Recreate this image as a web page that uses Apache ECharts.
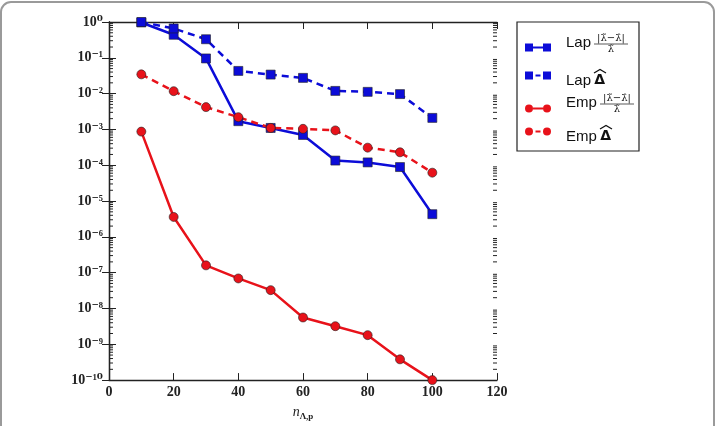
<!DOCTYPE html>
<html>
<head>
<meta charset="utf-8">
<script src="https://cdn.jsdelivr.net/npm/echarts@6/dist/echarts.min.js"></script>
<style>
  html, body { margin: 0; padding: 0; background: #fff; }
  #chart { width: 716px; height: 426px; }
</style>
</head>
<body>
<div id="chart"></div>
<script>
// 数据
const nValues = [10, 20, 30, 40, 50, 60, 70, 80, 90, 100];
const lapRel = [0.97, 0.44, 0.096, 1.7e-3, 1.1e-3, 7.0e-4, 1.35e-4, 1.2e-4, 8.9e-5, 4.3e-6];
const lapDelta = [1.0, 0.66, 0.33, 0.043, 0.034, 0.0275, 0.0119, 0.0112, 0.0097, 2.1e-3];
const empRel = [8.7e-4, 3.6e-6, 1.6e-7, 6.9e-8, 3.25e-8, 5.6e-9, 3.2e-9, 1.8e-9, 3.8e-10, 1.0e-10];
const empDelta = [0.0345, 0.0117, 4.2e-3, 2.2e-3, 1.1e-3, 1.04e-3, 9.4e-4, 3.1e-4, 2.3e-4, 6.2e-5];
const seriesNames = ['Lap |λ̃−λ̂|/λ̃', 'Lap Δ̂', 'Emp |λ̃−λ̂|/λ̃', 'Emp Δ̂'];
const legendPrefixes = ['Lap', 'Lap', 'Emp', 'Emp'];
const legendSuffixes = ['', 'Δ', '', 'Δ'];
const fracNumerator = '|λ̃−λ̂|';
const fracDenominator = 'λ̃';
const minorMultipliers = [2, 3, 4, 5, 6, 7, 8, 9];

const BLUE = '#0c0cd8';
const RED = '#e8121a';
const SERIF = '"Liberation Serif", "DejaVu Serif", serif';
const MATH = '"DejaVu Serif", serif';
const SANS = '"Liberation Sans", Arial, sans-serif';

const supDigits = { '0': '⁰', '1': '¹', '2': '²', '3': '³', '4': '⁴', '5': '⁵', '6': '⁶', '7': '⁷', '8': '⁸', '9': '⁹', '-': '⁻' };
const toSup = s => String(s).split('').map(c => supDigits[c] || c).join('');

const pair = arr => nValues.map((n, i) => [n, arr[i]]);

const chart = echarts.init(document.getElementById('chart'), null, { renderer: 'canvas' });

// 图例图标：两端标记 + 中间线段
const ICON_SQ_SOLID = 'path://M0,0h8v8h-8z M8,3h10v2h-10z M18,0h8v8h-8z';
const ICON_SQ_DASH = 'path://M0,0h8v8h-8z M10.5,3h5v2h-5z M18,0h8v8h-8z';
const ICON_CI_SOLID = 'path://M0,4a4,4 0 1,0 8,0a4,4 0 1,0 -8,0z M8,3h10v2h-10z M18,4a4,4 0 1,0 8,0a4,4 0 1,0 -8,0z';
const ICON_CI_DASH = 'path://M0,4a4,4 0 1,0 8,0a4,4 0 1,0 -8,0z M10.5,3h5v2h-5z M18,4a4,4 0 1,0 8,0a4,4 0 1,0 -8,0z';
const legendIcons = [ICON_SQ_SOLID, ICON_SQ_DASH, ICON_CI_SOLID, ICON_CI_DASH];
const legendRowY = [49, 77, 110, 133];
// 文字相对图标的竖直偏移（负值向上）
const legendTextShift = [-5, 5, -6, 5];

const legends = seriesNames.map((name, i) => {
  const sh = legendTextShift[i];
  const pad = sh < 0 ? [0, 0, -2 * sh, 10] : [2 * sh, 0, 0, 10];
  const padD = sh < 0 ? [0, 0, -2 * sh, 0] : [2 * sh, 0, 0, 0];
  const boxH = 18 + Math.abs(2 * sh);
  return {
    data: [name],
    left: 525,
    top: legendRowY[i] - boxH / 2,
    itemWidth: 26,
    itemHeight: 8,
    itemGap: 0,
    icon: legendIcons[i],
    selectedMode: false,
    padding: 0,
    itemStyle: { borderWidth: 0 },
    formatter: () => legendSuffixes[i]
      ? '{t|' + legendPrefixes[i] + '} {d|' + legendSuffixes[i] + '}'
      : '{t|' + legendPrefixes[i] + '}',
    textStyle: {
      color: '#111',
      rich: {
        t: { fontFamily: SANS, fontSize: 15, color: '#111', lineHeight: 18, padding: pad },
        d: { fontFamily: '"DejaVu Sans", sans-serif', fontWeight: 'bold', fontSize: 14, color: '#111', lineHeight: 18, padding: padD }
      }
    }
  };
});

// 分式文字（图例中的数学符号）
function fraction(x, y) {
  return [
    { type: 'text', x: x + 17, y: y - 0.5, style: { text: fracNumerator, font: '10px ' + MATH, fill: '#111', align: 'center', verticalAlign: 'bottom' }, silent: true },
    { type: 'line', shape: { x1: x, y1: y, x2: x + 34, y2: y }, style: { stroke: '#111', lineWidth: 0.7 }, silent: true },
    { type: 'text', x: x + 17, y: y + 0.5, style: { text: fracDenominator, font: '10px ' + MATH, fill: '#111', align: 'center', verticalAlign: 'top' }, silent: true }
  ];
}
// Δ 上的宽帽子
function hat(x, y) {
  return { type: 'polyline', shape: { points: [[x, y + 3.5], [x + 6, y], [x + 12, y + 3.5]] }, style: { stroke: '#111', lineWidth: 1.3, fill: null }, silent: true };
}

const lineSeries = (name, data, color, symbol, dashed) => ({
  name,
  type: 'line',
  data: pair(data),
  symbol,
  symbolSize: 9,
  showSymbol: true,
  clip: true,
  lineStyle: { color, width: 2.5, type: dashed ? [7, 5] : 'solid' },
  itemStyle: { color, borderColor: '#222', borderWidth: 0.6 },
  emphasis: { disabled: true },
  z: 3
});

const axisLineStyle = { show: true, lineStyle: { color: '#222', width: 1.3 } };
const GRID = { left: 109, right: 219, top: 22, bottom: 28 };

chart.setOption({
  animation: false,
  backgroundColor: '#fff',
  legend: legends,
  grid: Object.assign({ containLabel: false }, GRID),
  xAxis: [
    {
      type: 'value', min: 0, max: 120, interval: 20,
      axisLine: axisLineStyle,
      axisTick: { show: true, inside: true, length: 7, lineStyle: { color: '#222' } },
      splitLine: { show: false },
      axisLabel: { fontFamily: SERIF, fontWeight: 'bold', fontSize: 14, color: '#222', margin: 5 },
      name: '{i|n}{s|Λ,p}',
      nameLocation: 'middle',
      nameGap: 19,
      nameTextStyle: {
        rich: {
          i: { fontFamily: SERIF, fontStyle: 'italic', fontSize: 14, color: '#222', lineHeight: 16, verticalAlign: 'top' },
          s: { fontFamily: SERIF, fontWeight: 'bold', fontSize: 9, color: '#222', lineHeight: 16, verticalAlign: 'bottom', padding: [8, 0, 0, 0] }
        }
      }
    },
    {
      type: 'value', min: 0, max: 120, interval: 20, position: 'top',
      axisLine: axisLineStyle,
      axisTick: { show: true, inside: true, length: 7, lineStyle: { color: '#222' } },
      axisLabel: { show: false },
      splitLine: { show: false }
    }
  ],
  yAxis: [
    {
      type: 'log', logBase: 10, min: 1e-10, max: 1, interval: 1,
      axisLine: axisLineStyle,
      axisTick: { show: true, inside: true, length: 7, lineStyle: { color: '#222' } },
      splitLine: { show: false },
      axisLabel: {
        fontFamily: SERIF, fontWeight: 'bold', fontSize: 14, color: '#222', margin: 6,
        formatter: v => '10' + toSup(Math.round(Math.log10(v)))
      }
    },
    {
      type: 'log', logBase: 10, min: 1e-10, max: 1, interval: 1, position: 'right',
      axisLine: axisLineStyle,
      axisTick: { show: true, inside: true, length: 7, lineStyle: { color: '#222' } },
      splitLine: { show: false },
      axisLabel: { show: false }
    }
  ],
  series: [
    lineSeries(seriesNames[0], lapRel, BLUE, 'rect', false),
    lineSeries(seriesNames[1], lapDelta, BLUE, 'rect', true),
    lineSeries(seriesNames[2], empRel, RED, 'circle', false),
    lineSeries(seriesNames[3], empDelta, RED, 'circle', true)
  ]
});

// 对数次刻度（向内），位置由 y 轴比例尺换算
const xLeft = GRID.left;
const xRight = 716 - GRID.right;
const minorTicks = [];
for (let k = -10; k < 0; k++) {
  minorMultipliers.forEach(m => {
    const py = chart.convertToPixel({ yAxisIndex: 0 }, m * Math.pow(10, k));
    minorTicks.push(
      { type: 'line', shape: { x1: xLeft, y1: py, x2: xLeft + 4, y2: py }, style: { stroke: '#222', lineWidth: 1 }, silent: true },
      { type: 'line', shape: { x1: xRight, y1: py, x2: xRight - 4, y2: py }, style: { stroke: '#222', lineWidth: 1 }, silent: true }
    );
  });
}

chart.setOption({
  graphic: [
    // 外框（圆角）
    { type: 'rect', shape: { x: 1, y: 2, width: 713, height: 460, r: 10 }, style: { fill: null, stroke: '#9a9a9a', lineWidth: 2 }, silent: true, z: -1 },
    // 图例边框
    { type: 'rect', shape: { x: 517, y: 22, width: 122, height: 129 }, style: { fill: null, stroke: '#222', lineWidth: 1.2 }, silent: true },
    ...fraction(594, 44),
    ...fraction(600, 104),
    hat(594, 69.5),
    hat(600, 125.5),
    ...minorTicks
  ]
});
</script>
</body>
</html>
